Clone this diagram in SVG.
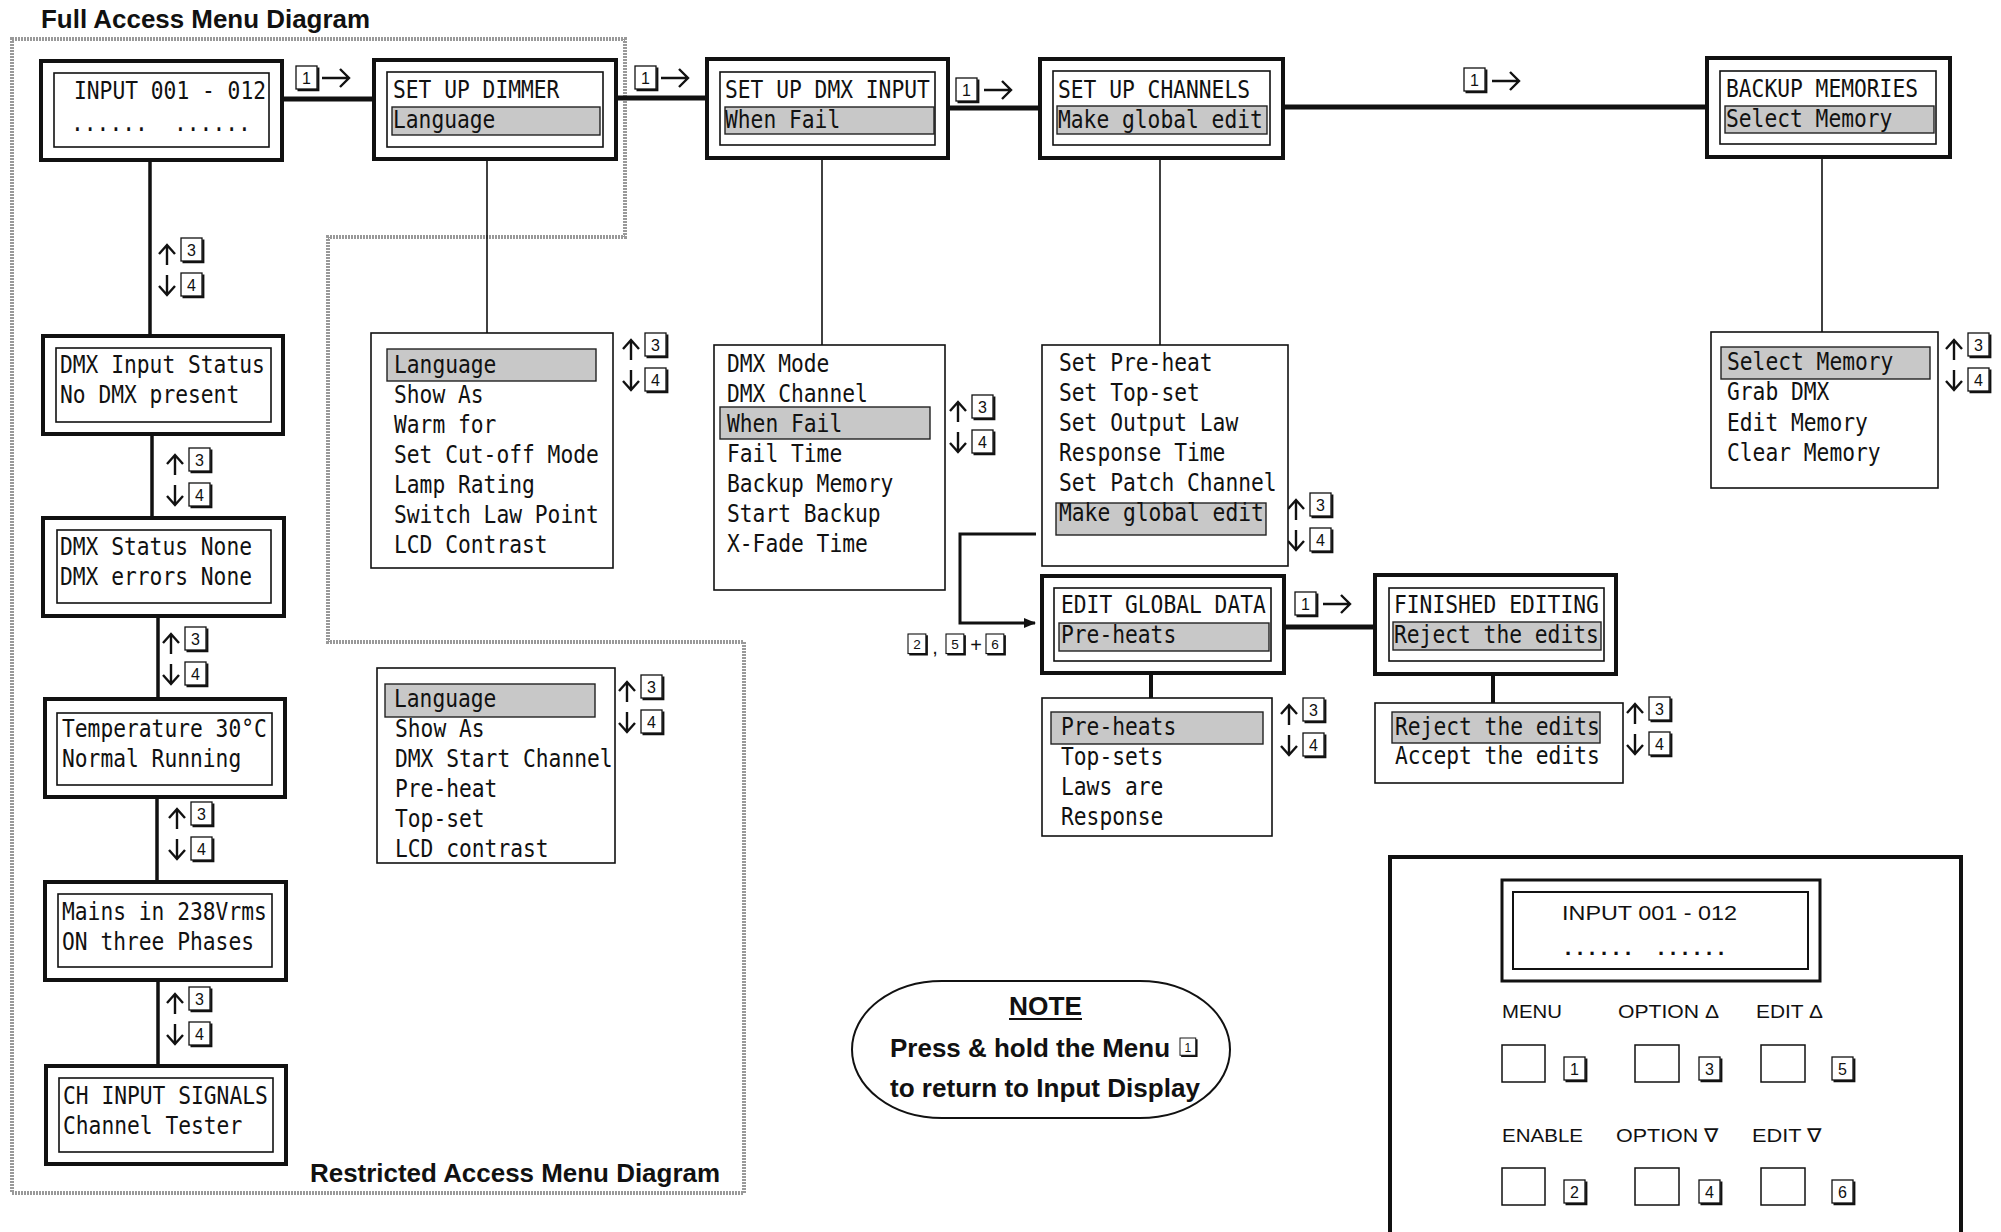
<svg xmlns="http://www.w3.org/2000/svg" xmlns:xlink="http://www.w3.org/1999/xlink" width="2001" height="1232" viewBox="0 0 2001 1232">
<style>
.bg{fill:#fff}
.frame{fill:none;stroke:#999;stroke-width:4;stroke-dasharray:2 1}
.outer{fill:#fff;stroke:#111;stroke-width:4}
.inner{fill:#fff;stroke:#111;stroke-width:1.6}
.list{fill:#fff;stroke:#111;stroke-width:1.6}
.hl{fill:#c8c8c8;stroke:#222;stroke-width:1.4}
.lcd{font-family:"DejaVu Sans Mono",monospace;font-size:24px;fill:#111}
.kn{font-family:"Liberation Sans",Arial,sans-serif;font-size:16px;fill:#111;text-anchor:middle}
.thick{stroke:#111;stroke-width:5;fill:none}
.mid{stroke:#111;stroke-width:3.5;fill:none}
.thin{stroke:#111;stroke-width:1.6;fill:none}
.arr{stroke:#111;stroke-width:2.4;fill:none}
.ttl{font-family:"Liberation Sans",Arial,sans-serif;font-weight:bold;font-size:25px;fill:#111}
.note{font-family:"Liberation Sans",Arial,sans-serif;font-weight:bold;font-size:25px;fill:#111}
.pl{font-family:"Liberation Sans",Arial,sans-serif;font-size:19px;fill:#111}
.btn{fill:#fff;stroke:#111;stroke-width:1.5}
</style>
<defs>
<g id="key"><rect x="0" y="0" width="21" height="23" fill="#fff" stroke="#111" stroke-width="1.3"/><path d="M1.5,24.2 H22.3 V1.5" fill="none" stroke="#111" stroke-width="2.2"/></g>
<path id="au" d="M0,0 V-20 M-8,-11 L0,-20 L8,-11"/>
<path id="ad" d="M0,0 V20 M-8,11 L0,20 L8,11"/>
<path id="ar" d="M0,0 H27 M18,-9 L27,0 L18,9"/>
<marker id="ah" markerWidth="12" markerHeight="10" refX="11" refY="5" orient="auto" markerUnits="userSpaceOnUse"><path d="M0,0 L12,5 L0,10 z" fill="#111"/></marker>
</defs>
<rect class="bg" x="0" y="0" width="2001" height="1232"/>

<!-- titles and access frame -->
<text class="ttl" x="41" y="28" textLength="329" lengthAdjust="spacingAndGlyphs">Full Access Menu Diagram</text>
<path class="frame" d="M12,39 H625 V237 H328 V642 H744 V1193 H12 Z"/>
<text class="ttl" x="310" y="1182" textLength="410" lengthAdjust="spacingAndGlyphs">Restricted Access Menu Diagram</text>

<!-- connectors -->
<g id="connectors">
<line class="thick" x1="282" y1="99" x2="374" y2="99"/>
<line class="thick" x1="616" y1="98" x2="707" y2="98"/>
<line class="thick" x1="948" y1="108" x2="1040" y2="108"/>
<line class="thick" x1="1283" y1="107" x2="1707" y2="107"/>
<line class="thick" x1="1284" y1="627" x2="1375" y2="627"/>
<line class="mid" x1="150" y1="160" x2="150" y2="336"/>
<line class="mid" x1="152" y1="434" x2="152" y2="518"/>
<line class="mid" x1="158" y1="616" x2="158" y2="699"/>
<line class="mid" x1="157" y1="797" x2="157" y2="882"/>
<line class="mid" x1="158" y1="980" x2="158" y2="1066"/>
<line class="thin" x1="487" y1="159" x2="487" y2="333"/>
<line class="thin" x1="822" y1="158" x2="822" y2="345"/>
<line class="thin" x1="1160" y1="158" x2="1160" y2="345"/>
<line class="thin" x1="1822" y1="157" x2="1822" y2="332"/>
<line class="mid" x1="1151" y1="673" x2="1151" y2="698" style="stroke-width:4"/>
<line class="mid" x1="1493" y1="674" x2="1493" y2="703" style="stroke-width:4"/>
<path d="M1036,534 H960 V623 H1035" fill="none" stroke="#111" stroke-width="3" marker-end="url(#ah)"/>
</g>

<!-- menu 1 arrows -->
<g id="menu-keys">
<use href="#key" x="296" y="66"/><text class="kn" x="306.5" y="84">1</text><use href="#ar" class="arr" x="322" y="78"/>
<use href="#key" x="635" y="66"/><text class="kn" x="645.5" y="84">1</text><use href="#ar" class="arr" x="661" y="78"/>
<use href="#key" x="956" y="78"/><text class="kn" x="966.5" y="96">1</text><use href="#ar" class="arr" x="984" y="90"/>
<use href="#key" x="1464" y="68"/><text class="kn" x="1474.5" y="86">1</text><use href="#ar" class="arr" x="1492" y="81"/>
<use href="#key" x="1295" y="592"/><text class="kn" x="1305.5" y="610">1</text><use href="#ar" class="arr" x="1323" y="604"/>
<g transform="translate(908,634) scale(0.85)"><use href="#key"/><text class="kn" x="10.5" y="18">2</text></g>
<text class="kn" x="935" y="654" style="font-size:20px">,</text>
<g transform="translate(946,634) scale(0.85)"><use href="#key"/><text class="kn" x="10.5" y="18">5</text></g>
<text class="kn" x="976" y="652" style="font-size:20px">+</text>
<g transform="translate(986,634) scale(0.85)"><use href="#key"/><text class="kn" x="10.5" y="18">6</text></g>
</g>

<!-- up/down key pairs -->
<g id="updown">
<use href="#au" class="arr" x="167" y="265"/><use href="#key" x="181" y="238"/><text class="kn" x="191.5" y="256">3</text>
<use href="#ad" class="arr" x="167" y="275"/><use href="#key" x="181" y="273"/><text class="kn" x="191.5" y="291">4</text>
<use href="#au" class="arr" x="175" y="475"/><use href="#key" x="189" y="448"/><text class="kn" x="199.5" y="466">3</text>
<use href="#ad" class="arr" x="175" y="485"/><use href="#key" x="189" y="483"/><text class="kn" x="199.5" y="501">4</text>
<use href="#au" class="arr" x="171" y="654"/><use href="#key" x="185" y="627"/><text class="kn" x="195.5" y="645">3</text>
<use href="#ad" class="arr" x="171" y="664"/><use href="#key" x="185" y="662"/><text class="kn" x="195.5" y="680">4</text>
<use href="#au" class="arr" x="177" y="829"/><use href="#key" x="191" y="802"/><text class="kn" x="201.5" y="820">3</text>
<use href="#ad" class="arr" x="177" y="839"/><use href="#key" x="191" y="837"/><text class="kn" x="201.5" y="855">4</text>
<use href="#au" class="arr" x="175" y="1014"/><use href="#key" x="189" y="987"/><text class="kn" x="199.5" y="1005">3</text>
<use href="#ad" class="arr" x="175" y="1024"/><use href="#key" x="189" y="1022"/><text class="kn" x="199.5" y="1040">4</text>
<use href="#au" class="arr" x="631" y="360"/><use href="#key" x="645" y="333"/><text class="kn" x="655.5" y="351">3</text>
<use href="#ad" class="arr" x="631" y="370"/><use href="#key" x="645" y="368"/><text class="kn" x="655.5" y="386">4</text>
<use href="#au" class="arr" x="627" y="702"/><use href="#key" x="641" y="675"/><text class="kn" x="651.5" y="693">3</text>
<use href="#ad" class="arr" x="627" y="712"/><use href="#key" x="641" y="710"/><text class="kn" x="651.5" y="728">4</text>
<use href="#au" class="arr" x="958" y="422"/><use href="#key" x="972" y="395"/><text class="kn" x="982.5" y="413">3</text>
<use href="#ad" class="arr" x="958" y="432"/><use href="#key" x="972" y="430"/><text class="kn" x="982.5" y="448">4</text>
<use href="#au" class="arr" x="1296" y="520"/><use href="#key" x="1310" y="493"/><text class="kn" x="1320.5" y="511">3</text>
<use href="#ad" class="arr" x="1296" y="530"/><use href="#key" x="1310" y="528"/><text class="kn" x="1320.5" y="546">4</text>
<use href="#au" class="arr" x="1954" y="360"/><use href="#key" x="1968" y="333"/><text class="kn" x="1978.5" y="351">3</text>
<use href="#ad" class="arr" x="1954" y="370"/><use href="#key" x="1968" y="368"/><text class="kn" x="1978.5" y="386">4</text>
<use href="#au" class="arr" x="1289" y="725"/><use href="#key" x="1303" y="698"/><text class="kn" x="1313.5" y="716">3</text>
<use href="#ad" class="arr" x="1289" y="735"/><use href="#key" x="1303" y="733"/><text class="kn" x="1313.5" y="751">4</text>
<use href="#au" class="arr" x="1635" y="724"/><use href="#key" x="1649" y="697"/><text class="kn" x="1659.5" y="715">3</text>
<use href="#ad" class="arr" x="1635" y="734"/><use href="#key" x="1649" y="732"/><text class="kn" x="1659.5" y="750">4</text>
</g>

<!-- header nodes -->
<g id="n-input">
<rect class="outer" x="41" y="61" width="241" height="99"/><rect class="inner" x="54" y="73" width="215" height="74"/>
<text class="lcd" x="74" y="99" textLength="192" lengthAdjust="spacingAndGlyphs">INPUT 001 - 012</text>
<text class="lcd" x="71" y="131" textLength="76.8" lengthAdjust="spacingAndGlyphs">......</text>
<text class="lcd" x="174" y="131" textLength="76.8" lengthAdjust="spacingAndGlyphs">......</text>
</g>
<g id="n-dimmer">
<rect class="outer" x="374" y="60" width="242" height="99"/><rect class="inner" x="387" y="72" width="216" height="75"/>
<rect class="hl" x="392" y="107" width="208" height="28"/>
<text class="lcd" x="393" y="98" textLength="166.4" lengthAdjust="spacingAndGlyphs">SET UP DIMMER</text>
<text class="lcd" x="393" y="128" textLength="102.4" lengthAdjust="spacingAndGlyphs">Language</text>
</g>
<g id="n-dmxinput">
<rect class="outer" x="707" y="59" width="241" height="99"/><rect class="inner" x="720" y="72" width="215" height="73"/>
<rect class="hl" x="725" y="107" width="209" height="27"/>
<text class="lcd" x="725" y="98" textLength="204.8" lengthAdjust="spacingAndGlyphs">SET UP DMX INPUT</text>
<text class="lcd" x="725" y="128" textLength="115.2" lengthAdjust="spacingAndGlyphs">When Fail</text>
</g>
<g id="n-channels">
<rect class="outer" x="1040" y="59" width="243" height="99"/><rect class="inner" x="1053" y="71" width="217" height="74"/>
<rect class="hl" x="1057" y="106" width="210" height="28"/>
<text class="lcd" x="1058" y="98" textLength="192" lengthAdjust="spacingAndGlyphs">SET UP CHANNELS</text>
<text class="lcd" x="1058" y="128" textLength="204.8" lengthAdjust="spacingAndGlyphs">Make global edit</text>
</g>
<g id="n-backup">
<rect class="outer" x="1707" y="58" width="243" height="99"/><rect class="inner" x="1720" y="71" width="216" height="73"/>
<rect class="hl" x="1725" y="106" width="209" height="27"/>
<text class="lcd" x="1726" y="97" textLength="192" lengthAdjust="spacingAndGlyphs">BACKUP MEMORIES</text>
<text class="lcd" x="1726" y="127" textLength="166.4" lengthAdjust="spacingAndGlyphs">Select Memory</text>
</g>

<!-- left column nodes -->
<g id="n-dmxstatus">
<rect class="outer" x="43" y="336" width="240" height="98"/><rect class="inner" x="56" y="348" width="215" height="74"/>
<text class="lcd" x="60" y="373" textLength="204.8" lengthAdjust="spacingAndGlyphs">DMX Input Status</text>
<text class="lcd" x="60" y="403" textLength="179.2" lengthAdjust="spacingAndGlyphs">No DMX present</text>
</g>
<g id="n-dmxnone">
<rect class="outer" x="43" y="518" width="241" height="98"/><rect class="inner" x="57" y="530" width="214" height="73"/>
<text class="lcd" x="60" y="555" textLength="192" lengthAdjust="spacingAndGlyphs">DMX Status None</text>
<text class="lcd" x="60" y="585" textLength="192" lengthAdjust="spacingAndGlyphs">DMX errors None</text>
</g>
<g id="n-temp">
<rect class="outer" x="45" y="699" width="240" height="98"/><rect class="inner" x="57" y="713" width="215" height="72"/>
<text class="lcd" x="62" y="737" textLength="204.8" lengthAdjust="spacingAndGlyphs">Temperature 30°C</text>
<text class="lcd" x="62" y="767" textLength="179.2" lengthAdjust="spacingAndGlyphs">Normal Running</text>
</g>
<g id="n-mains">
<rect class="outer" x="45" y="882" width="241" height="98"/><rect class="inner" x="58" y="894" width="214" height="73"/>
<text class="lcd" x="62" y="920" textLength="204.8" lengthAdjust="spacingAndGlyphs">Mains in 238Vrms</text>
<text class="lcd" x="62" y="950" textLength="192" lengthAdjust="spacingAndGlyphs">ON three Phases</text>
</g>
<g id="n-chinput">
<rect class="outer" x="46" y="1066" width="240" height="98"/><rect class="inner" x="59" y="1078" width="214" height="74"/>
<text class="lcd" x="63" y="1104" textLength="204.8" lengthAdjust="spacingAndGlyphs">CH INPUT SIGNALS</text>
<text class="lcd" x="63" y="1134" textLength="179.2" lengthAdjust="spacingAndGlyphs">Channel Tester</text>
</g>

<!-- option lists -->
<g id="l-dimmer">
<rect class="list" x="371" y="333" width="242" height="235"/>
<rect class="hl" x="387" y="349" width="209" height="32"/>
<text class="lcd" x="394" y="373" textLength="102.4" lengthAdjust="spacingAndGlyphs">Language</text>
<text class="lcd" x="394" y="403" textLength="89.6" lengthAdjust="spacingAndGlyphs">Show As</text>
<text class="lcd" x="394" y="433" textLength="102.4" lengthAdjust="spacingAndGlyphs">Warm for</text>
<text class="lcd" x="394" y="463" textLength="204.8" lengthAdjust="spacingAndGlyphs">Set Cut-off Mode</text>
<text class="lcd" x="394" y="493" textLength="140.8" lengthAdjust="spacingAndGlyphs">Lamp Rating</text>
<text class="lcd" x="394" y="523" textLength="204.8" lengthAdjust="spacingAndGlyphs">Switch Law Point</text>
<text class="lcd" x="394" y="553" textLength="153.6" lengthAdjust="spacingAndGlyphs">LCD Contrast</text>
</g>
<g id="l-restricted">
<rect class="list" x="377" y="668" width="238" height="195"/>
<rect class="hl" x="385" y="684" width="210" height="33"/>
<text class="lcd" x="394" y="707" textLength="102.4" lengthAdjust="spacingAndGlyphs">Language</text>
<text class="lcd" x="395" y="737" textLength="89.6" lengthAdjust="spacingAndGlyphs">Show As</text>
<text class="lcd" x="395" y="767" textLength="217.6" lengthAdjust="spacingAndGlyphs">DMX Start Channel</text>
<text class="lcd" x="395" y="797" textLength="102.4" lengthAdjust="spacingAndGlyphs">Pre-heat</text>
<text class="lcd" x="395" y="827" textLength="89.6" lengthAdjust="spacingAndGlyphs">Top-set</text>
<text class="lcd" x="395" y="857" textLength="153.6" lengthAdjust="spacingAndGlyphs">LCD contrast</text>
</g>
<g id="l-dmx">
<rect class="list" x="714" y="345" width="231" height="245"/>
<rect class="hl" x="720" y="407" width="210" height="32"/>
<text class="lcd" x="727" y="372" textLength="102.4" lengthAdjust="spacingAndGlyphs">DMX Mode</text>
<text class="lcd" x="727" y="402" textLength="140.8" lengthAdjust="spacingAndGlyphs">DMX Channel</text>
<text class="lcd" x="727" y="432" textLength="115.2" lengthAdjust="spacingAndGlyphs">When Fail</text>
<text class="lcd" x="727" y="462" textLength="115.2" lengthAdjust="spacingAndGlyphs">Fail Time</text>
<text class="lcd" x="727" y="492" textLength="166.4" lengthAdjust="spacingAndGlyphs">Backup Memory</text>
<text class="lcd" x="727" y="522" textLength="153.6" lengthAdjust="spacingAndGlyphs">Start Backup</text>
<text class="lcd" x="727" y="552" textLength="140.8" lengthAdjust="spacingAndGlyphs">X-Fade Time</text>
</g>
<g id="l-channels">
<rect class="list" x="1042" y="345" width="246" height="221"/>
<rect class="hl" x="1056" y="503" width="210" height="32"/>
<text class="lcd" x="1059" y="371" textLength="153.6" lengthAdjust="spacingAndGlyphs">Set Pre-heat</text>
<text class="lcd" x="1059" y="401" textLength="140.8" lengthAdjust="spacingAndGlyphs">Set Top-set</text>
<text class="lcd" x="1059" y="431" textLength="179.2" lengthAdjust="spacingAndGlyphs">Set Output Law</text>
<text class="lcd" x="1059" y="461" textLength="166.4" lengthAdjust="spacingAndGlyphs">Response Time</text>
<text class="lcd" x="1059" y="491" textLength="217.6" lengthAdjust="spacingAndGlyphs">Set Patch Channel</text>
<text class="lcd" x="1059" y="521" textLength="204.8" lengthAdjust="spacingAndGlyphs">Make global edit</text>
</g>
<g id="l-backup">
<rect class="list" x="1711" y="332" width="227" height="156"/>
<rect class="hl" x="1721" y="347" width="209" height="32"/>
<text class="lcd" x="1727" y="370" textLength="166.4" lengthAdjust="spacingAndGlyphs">Select Memory</text>
<text class="lcd" x="1727" y="400" textLength="102.4" lengthAdjust="spacingAndGlyphs">Grab DMX</text>
<text class="lcd" x="1727" y="431" textLength="140.8" lengthAdjust="spacingAndGlyphs">Edit Memory</text>
<text class="lcd" x="1727" y="461" textLength="153.6" lengthAdjust="spacingAndGlyphs">Clear Memory</text>
</g>

<!-- edit global / finished -->
<g id="n-editglobal">
<rect class="outer" x="1042" y="576" width="242" height="97"/><rect class="inner" x="1054" y="588" width="217" height="73"/>
<rect class="hl" x="1059" y="623" width="210" height="28"/>
<text class="lcd" x="1061" y="613" textLength="204.8" lengthAdjust="spacingAndGlyphs">EDIT GLOBAL DATA</text>
<text class="lcd" x="1061" y="643" textLength="115.2" lengthAdjust="spacingAndGlyphs">Pre-heats</text>
</g>
<g id="n-finished">
<rect class="outer" x="1375" y="575" width="241" height="99"/><rect class="inner" x="1389" y="588" width="215" height="73"/>
<rect class="hl" x="1393" y="622" width="208" height="28"/>
<text class="lcd" x="1394" y="613" textLength="204.8" lengthAdjust="spacingAndGlyphs">FINISHED EDITING</text>
<text class="lcd" x="1394" y="643" textLength="204.8" lengthAdjust="spacingAndGlyphs">Reject the edits</text>
</g>
<g id="l-preheats">
<rect class="list" x="1042" y="698" width="230" height="138"/>
<rect class="hl" x="1051" y="712" width="212" height="32"/>
<text class="lcd" x="1061" y="735" textLength="115.2" lengthAdjust="spacingAndGlyphs">Pre-heats</text>
<text class="lcd" x="1061" y="765" textLength="102.4" lengthAdjust="spacingAndGlyphs">Top-sets</text>
<text class="lcd" x="1061" y="795" textLength="102.4" lengthAdjust="spacingAndGlyphs">Laws are</text>
<text class="lcd" x="1061" y="825" textLength="102.4" lengthAdjust="spacingAndGlyphs">Response</text>
</g>
<g id="l-reject">
<rect class="list" x="1375" y="703" width="248" height="80"/>
<rect class="hl" x="1392" y="712" width="208" height="31"/>
<text class="lcd" x="1395" y="735" textLength="204.8" lengthAdjust="spacingAndGlyphs">Reject the edits</text>
<text class="lcd" x="1395" y="764" textLength="204.8" lengthAdjust="spacingAndGlyphs">Accept the edits</text>
</g>

<!-- note -->
<g id="note">
<rect x="852" y="981" width="378" height="137" rx="90" ry="68.5" fill="#fff" stroke="#111" stroke-width="2"/>
<text class="note" x="1009" y="1015" textLength="73" lengthAdjust="spacingAndGlyphs">NOTE</text>
<line x1="1009" y1="1019" x2="1082" y2="1019" stroke="#111" stroke-width="2"/>
<text class="note" x="890" y="1057" textLength="280" lengthAdjust="spacingAndGlyphs">Press &amp; hold the Menu</text>
<g transform="translate(1180,1038) scale(0.75)"><use href="#key"/><text class="kn" x="10.5" y="18">1</text></g>
<text class="note" x="890" y="1097" textLength="310" lengthAdjust="spacingAndGlyphs">to return to Input Display</text>
</g>

<!-- front panel -->
<g id="panel">
<rect x="1390" y="857" width="571" height="400" fill="#fff" stroke="#111" stroke-width="4"/>
<rect x="1502" y="880" width="318" height="101" fill="#fff" stroke="#111" stroke-width="3"/>
<rect x="1513" y="892" width="295" height="77" fill="#fff" stroke="#111" stroke-width="2"/>
<text class="pl" x="1562" y="920" textLength="175" lengthAdjust="spacingAndGlyphs" style="font-size:21px">INPUT 001 - 012</text>
<text class="pl" x="1565" y="955" textLength="66" lengthAdjust="spacing" style="font-size:22px;font-weight:bold">......</text>
<text class="pl" x="1658" y="955" textLength="66" lengthAdjust="spacing" style="font-size:22px;font-weight:bold">......</text>
<text class="pl" x="1502" y="1018" textLength="60" lengthAdjust="spacingAndGlyphs">MENU</text>
<text class="pl" x="1618" y="1018" textLength="101" lengthAdjust="spacingAndGlyphs">OPTION Δ</text>
<text class="pl" x="1756" y="1018" textLength="67" lengthAdjust="spacingAndGlyphs">EDIT Δ</text>
<text class="pl" x="1502" y="1142" textLength="81" lengthAdjust="spacingAndGlyphs">ENABLE</text>
<text class="pl" x="1616" y="1142" textLength="103" lengthAdjust="spacingAndGlyphs">OPTION ∇</text>
<text class="pl" x="1752" y="1142" textLength="70" lengthAdjust="spacingAndGlyphs">EDIT ∇</text>
<rect class="btn" x="1502" y="1045" width="43" height="37"/>
<rect class="btn" x="1635" y="1045" width="44" height="37"/>
<rect class="btn" x="1761" y="1045" width="44" height="37"/>
<rect class="btn" x="1502" y="1168" width="43" height="37"/>
<rect class="btn" x="1635" y="1168" width="44" height="37"/>
<rect class="btn" x="1761" y="1168" width="44" height="37"/>
<use href="#key" x="1564" y="1057"/><text class="kn" x="1574.5" y="1075">1</text>
<use href="#key" x="1699" y="1057"/><text class="kn" x="1709.5" y="1075">3</text>
<use href="#key" x="1832" y="1057"/><text class="kn" x="1842.5" y="1075">5</text>
<use href="#key" x="1564" y="1180"/><text class="kn" x="1574.5" y="1198">2</text>
<use href="#key" x="1699" y="1180"/><text class="kn" x="1709.5" y="1198">4</text>
<use href="#key" x="1832" y="1180"/><text class="kn" x="1842.5" y="1198">6</text>
</g>
</svg>
